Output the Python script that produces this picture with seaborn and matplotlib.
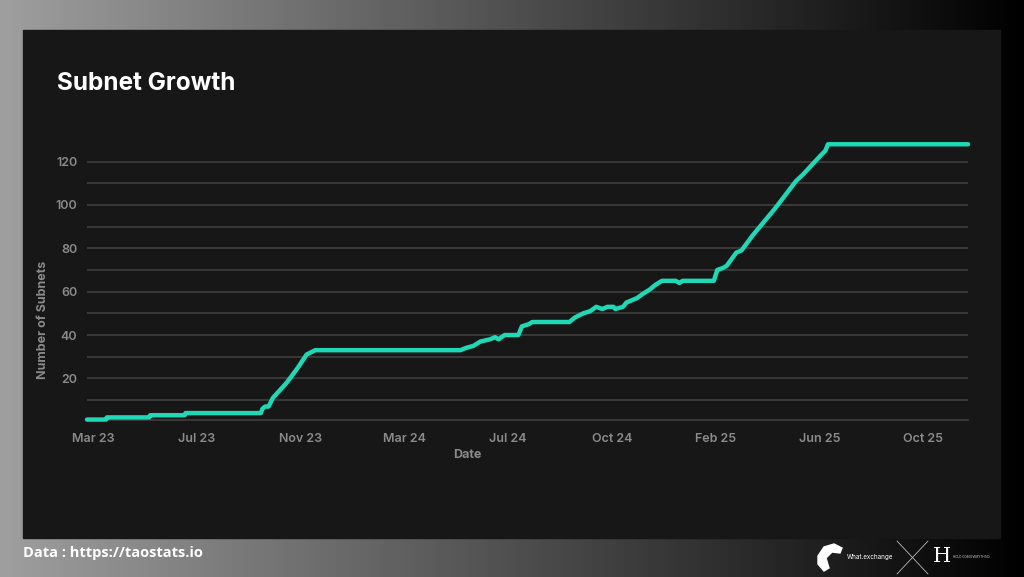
import numpy as np
import pandas as pd
import matplotlib
matplotlib.use("Agg")
import matplotlib.pyplot as plt
from matplotlib.patches import Rectangle, Polygon
import seaborn as sns

# values
dates = [
    "2023-03-03", "2023-03-25", "2023-03-26", "2023-05-14", "2023-05-15",
    "2023-06-24", "2023-06-25", "2023-09-20", "2023-09-22", "2023-09-25",
    "2023-09-29", "2023-10-04", "2023-10-20", "2023-11-02", "2023-11-12",
    "2023-11-22", "2024-05-08", "2024-05-14", "2024-05-23", "2024-05-31",
    "2024-06-11", "2024-06-17", "2024-06-21", "2024-06-28", "2024-07-14",
    "2024-07-18", "2024-07-26", "2024-07-30", "2024-09-11", "2024-09-17",
    "2024-09-27", "2024-10-05", "2024-10-12", "2024-10-19", "2024-10-25",
    "2024-11-01", "2024-11-03", "2024-11-12", "2024-11-16", "2024-11-28",
    "2024-12-05", "2024-12-13", "2024-12-19", "2024-12-27", "2025-01-12",
    "2025-01-16", "2025-01-20", "2025-02-25", "2025-03-01", "2025-03-08",
    "2025-03-12", "2025-03-23", "2025-03-29", "2025-04-11", "2025-05-04",
    "2025-05-10", "2025-05-31", "2025-06-08", "2025-06-22", "2025-06-29",
    "2025-07-04", "2025-07-07", "2025-12-16",
]
subnets = [
    1, 1, 2, 2, 3,
    3, 4, 4, 6, 7,
    7, 11, 18, 25, 31,
    33, 33, 34, 35, 37,
    38, 39, 38, 40, 40,
    44, 45, 46, 46, 48,
    50, 51, 53, 52, 53,
    53, 52, 53, 55, 57,
    59, 61, 63, 65, 65,
    64, 65, 65, 70, 71,
    72, 78, 79, 86, 97,
    100, 111, 114, 120, 123,
    125, 128, 128,
]

x_tick_dates = ["2023-03-10", "2023-07-08", "2023-11-05", "2024-03-04", "2024-07-02",
                "2024-10-30", "2025-02-27", "2025-06-27", "2025-10-25"]
x_tick_labels = ["Mar 23", "Jul 23", "Nov 23", "Mar 24", "Jul 24",
                 "Oct 24", "Feb 25", "Jun 25", "Oct 25"]
y_ticks = [20, 40, 60, 80, 100, 120]
y_minor = [10, 30, 50, 70, 90, 110]

df = pd.DataFrame({"date": pd.to_datetime(dates), "subnets": subnets})

sns.set_style("dark")
plt.rcParams["font.family"] = ["Inter", "DejaVu Sans"]

W, H = 1024, 577
fig = plt.figure(figsize=(W / 100, H / 100), dpi=100)

# background gradient + dark card
bg = fig.add_axes([0, 0, 1, 1], zorder=-10)
grad = np.linspace(0.62, 0.0, 256)[None, :]
bg.imshow(grad, cmap="gray", vmin=0, vmax=1, aspect="auto", extent=[0, W, H, 0])
bg.add_patch(Rectangle((22.7, 30), 1000 - 22.7, 538 - 30, color="#171717"))
bg.set_xlim(0, W)
bg.set_ylim(H, 0)
bg.axis("off")

# logos (rough)
bg.add_patch(Polygon([[818, 556], [824, 547], [834, 544], [842, 548], [840, 553],
                      [832, 552], [826, 558], [829, 568], [824, 571], [818, 564]],
                     closed=True, color="white"))
bg.text(847, 557, "What.exchange", color="white", fontsize=4.5, va="center")
bg.plot([897, 928], [541, 574], color="#bbbbbb", lw=0.6)
bg.plot([928, 897], [541, 574], color="#bbbbbb", lw=0.6)
bg.text(942, 557, "H", color="white", fontsize=15, va="center", ha="center",
        family="DejaVu Serif")
bg.text(953, 557, "HOLD COIN EVERYTHING", color="#dddddd", fontsize=2.2, va="center")

ax = fig.add_axes([87 / W, 1 - 420 / H, (968 - 87) / W, (420 - 141) / H])
ax.set_facecolor("none")

sns.lineplot(data=df, x="date", y="subnets", ax=ax, color="#1fd8b6",
             linewidth=3.2, estimator=None, clip_on=False, zorder=5)

ax.set_xlim(pd.Timestamp("2023-03-03"), pd.Timestamp("2025-12-16"))
ax.set_ylim(0.8, 129.5)

ax.set_yticks(y_ticks)
ax.set_yticks(y_minor, minor=True)
ax.set_yticklabels([str(v) for v in y_ticks])
ax.set_xticks(pd.to_datetime(x_tick_dates))
ax.set_xticklabels(x_tick_labels)

grid_c = "#3c3c3c"
ax.grid(True, axis="y", which="both", color=grid_c, linewidth=1.3)
ax.grid(False, axis="x")
ax.tick_params(axis="y", which="major", length=4, width=1.3, color=grid_c,
               pad=3, labelsize=9, labelcolor="#8a8a8a")
ax.tick_params(axis="y", which="minor", length=0)
ax.tick_params(axis="x", length=3, width=1, color="#555555", direction="out",
               pad=6, labelsize=9, labelcolor="#8a8a8a")
for lab in ax.get_xticklabels() + ax.get_yticklabels():
    lab.set_fontweight("semibold")

for s in ["top", "right", "left"]:
    ax.spines[s].set_visible(False)
ax.spines["bottom"].set_color(grid_c)
ax.spines["bottom"].set_linewidth(1.3)

ax.set_xlabel("Date", color="#8a8a8a", fontsize=9, fontweight="bold")
ax.set_ylabel("Number of Subnets", color="#8a8a8a", fontsize=9, fontweight="bold")
ax.xaxis.set_label_coords((467 - 87) / (968 - 87), -(449 - 420) / (420 - 141))
ax.yaxis.set_label_coords(-(87 - 49) / (968 - 87), (420 - 320) / (420 - 141))

fig.text(57 / W, 1 - 83 / H, "Subnet Growth", color="white", fontsize=17.5,
         fontweight="bold", va="center", ha="left")
fig.text(23 / W, 1 - 553 / H, "Data : https://taostats.io", color="white",
         fontsize=10.5, fontweight="bold", va="center", ha="left",
         family=["Open Sans", "DejaVu Sans"])

fig.savefig("out.png", dpi=100)
plt.close(fig)
